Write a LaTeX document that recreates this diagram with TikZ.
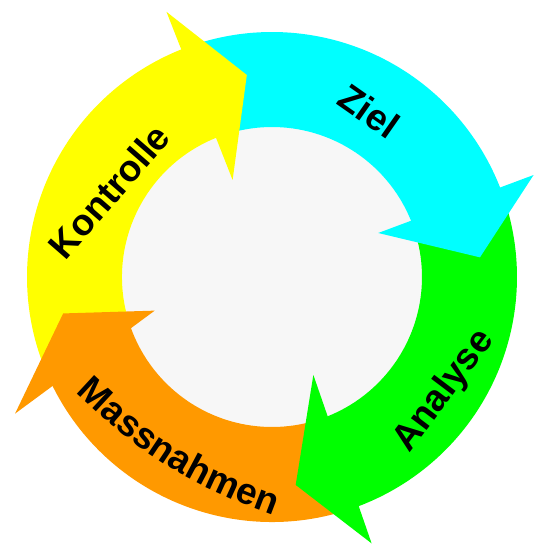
\documentclass[tikz,border=0pt]{standalone}
\usepackage{fontspec}
\setmainfont{Liberation Sans}
\usetikzlibrary{decorations.text}
\definecolor{zielc}{RGB}{0,255,255}
\definecolor{analysec}{RGB}{0,255,0}
\definecolor{massnc}{RGB}{255,153,0}
\definecolor{kontrc}{RGB}{255,255,0}
\definecolor{mitte}{RGB}{247,247,247}
\tikzset{lbl/.style={font=\bfseries\fontsize{37}{37}\selectfont, inner sep=0pt, text depth=0pt}}
\begin{document}
\begin{tikzpicture}[x=1pt,y=1pt,line join=round]
	\useasboundingbox (-272,-269) rectangle (271,277);
	\fill[white] (-272,-269) rectangle (271,277);
	\fill[mitte] (0,0) circle (150);
	% Boegen
	\fill[kontrc] (205.4:245) arc[start angle=205.4,end angle=109.9,radius=245] -- (109.7:150) arc[start angle=109.7,end angle=198.9,radius=150] -- cycle;
	\fill[zielc] (110.9:245) arc[start angle=110.9,end angle=19.8,radius=245] -- (20.5:150) arc[start angle=20.5,end angle=110.7,radius=150] -- cycle;
	\fill[analysec] (20.8:245) arc[start angle=20.8,end angle=-70.6,radius=245] -- (-70:150) arc[start angle=-70,end angle=21.5,radius=150] -- cycle;
	\fill[massnc] (-69.6:245) arc[start angle=-69.6,end angle=-155.6,radius=245] -- (-162:150) arc[start angle=-162,end angle=-69,radius=150] -- cycle;
	% Spitzen
	\fill[kontrc] (111.7:285.4) -- (97.1:203.6) -- (112.1:104.7) -- cycle;
	\fill[zielc] (21.3:280.8) -- (5.4:208.9) -- (22.5:115) -- cycle;
	\fill[analysec] (-69.5:284.4) -- (-83.5:209.3) -- (-67.1:106.3) -- cycle;
	\fill[massnc] (208:291) -- (189.9:212) -- (196:122) -- cycle;
	% Texte
	\node[lbl,rotate=-35] (ziel) at (97,166) {Ziel};
	\node[lbl,rotate=53] (analyse) at (169,-112) {Analyse};
	\node[lbl,rotate=49] (kontrolle) at (-163,86) {Kontrolle};
	\coordinate (mstart) at (-199,-113);
	\coordinate (mend) at (5,-240);
	\path[decorate,decoration={text along path,text align=center,
		text={|\bfseries\fontsize{37}{37}\selectfont|Massnahmen}}] (mstart) to[bend right=12] (mend);
\end{tikzpicture}
\end{document}
